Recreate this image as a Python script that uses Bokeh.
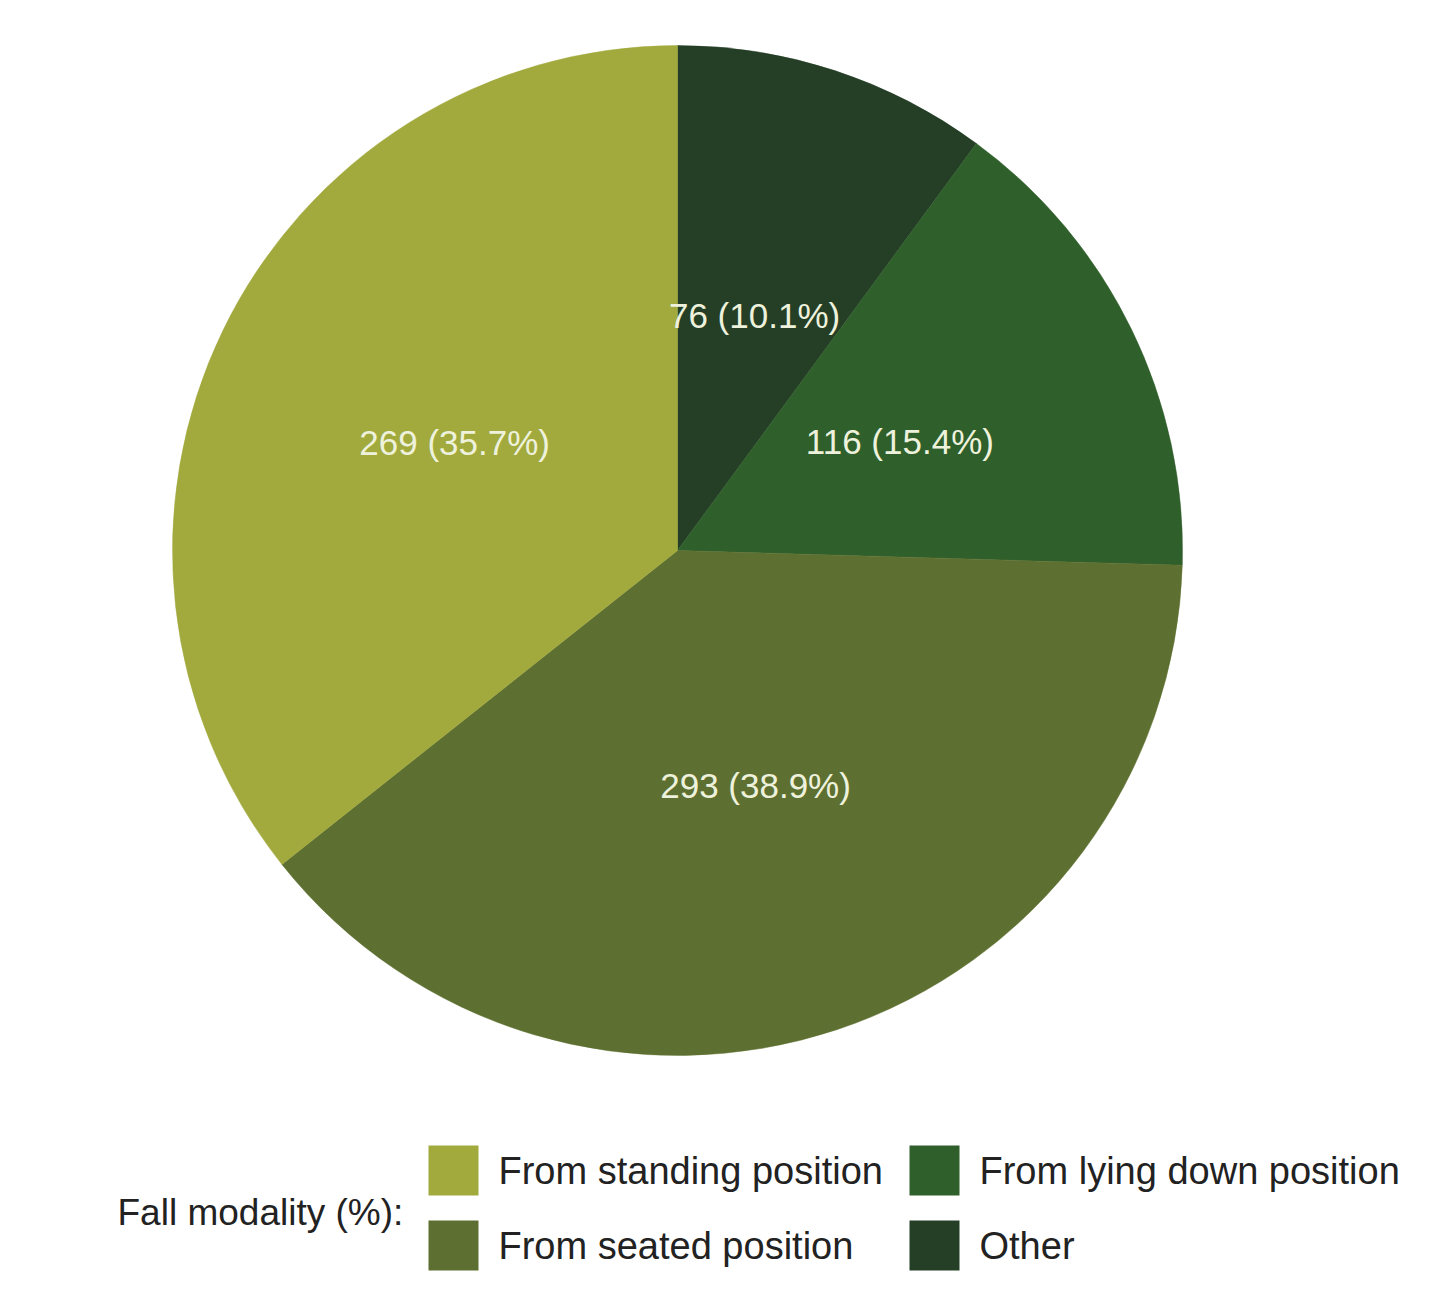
import numpy as np
from bokeh.plotting import figure
from bokeh.models import Range1d, ColumnDataSource
from bokeh.core.properties import value
from bokeh.embed import file_html
from bokeh.resources import INLINE

# ---- data ----
categories = ["Other", "From lying down position", "From seated position", "From standing position"]
counts = [76, 116, 293, 269]
percents = [10.1, 15.4, 38.9, 35.7]
colors = ["#253f27", "#2f5f2a", "#5e7031", "#a2aa3e"]
legend_order = ["From standing position", "From seated position", "From lying down position", "Other"]
legend_title = "Fall modality (%):"

# ---- layout ----
W, H = 1423, 1275
CX, CY, R = 677, H - 550, 505
FONT = "Liberation Sans"

p = figure(width=W, height=H, x_range=Range1d(0, W), y_range=Range1d(0, H),
           output_backend="svg", toolbar_location=None, min_border=0)
p.axis.visible = False
p.grid.visible = False
p.outline_line_color = None
p.background_fill_color = "white"

vals = np.array(counts, dtype=float)
frac = vals / vals.sum()
cum = np.concatenate([[0], np.cumsum(frac)])
start = np.pi / 2 - cum[:-1] * 2 * np.pi
end = np.pi / 2 - cum[1:] * 2 * np.pi
mid = (start + end) / 2
labels = [f"{c} ({pc}%)" for c, pc in zip(counts, percents)]

src = ColumnDataSource(dict(
    cat=categories, start=start, end=end, color=colors, label=labels,
    lx=CX + 0.49 * R * np.cos(mid), ly=CY + 0.49 * R * np.sin(mid),
))
p.wedge(x=CX, y=CY, radius=R, start_angle="start", end_angle="end", direction="clock",
        fill_color="color", line_color="color", line_width=0.5, source=src)
p.text(x="lx", y="ly", text="label", source=src, text_color="#eef2dc",
       text_font=value(FONT), text_font_size="35px", text_align="center",
       text_baseline="middle")

# ---- legend ----
col_of = dict(zip(categories, colors))
sq_x = [453, 453, 934, 934]
sq_y = [H - 1170, H - 1245, H - 1170, H - 1245]
lsrc = ColumnDataSource(dict(
    name=legend_order, color=[col_of[n] for n in legend_order],
    x=sq_x, y=sq_y, tx=[x + 45 for x in sq_x],
))
p.rect(x="x", y="y", width=50, height=50, fill_color="color", line_color=None, source=lsrc)
p.text(x="tx", y="y", text="name", source=lsrc, text_color="#222222",
       text_font=value(FONT), text_font_size="38px", text_align="left",
       text_baseline="middle")
p.text(x=[117], y=[H - 1212], text=[legend_title], text_color="#222222",
       text_font=value(FONT), text_font_size="37px", text_align="left",
       text_baseline="middle")

open("out.html", "w").write(file_html(p, INLINE))
